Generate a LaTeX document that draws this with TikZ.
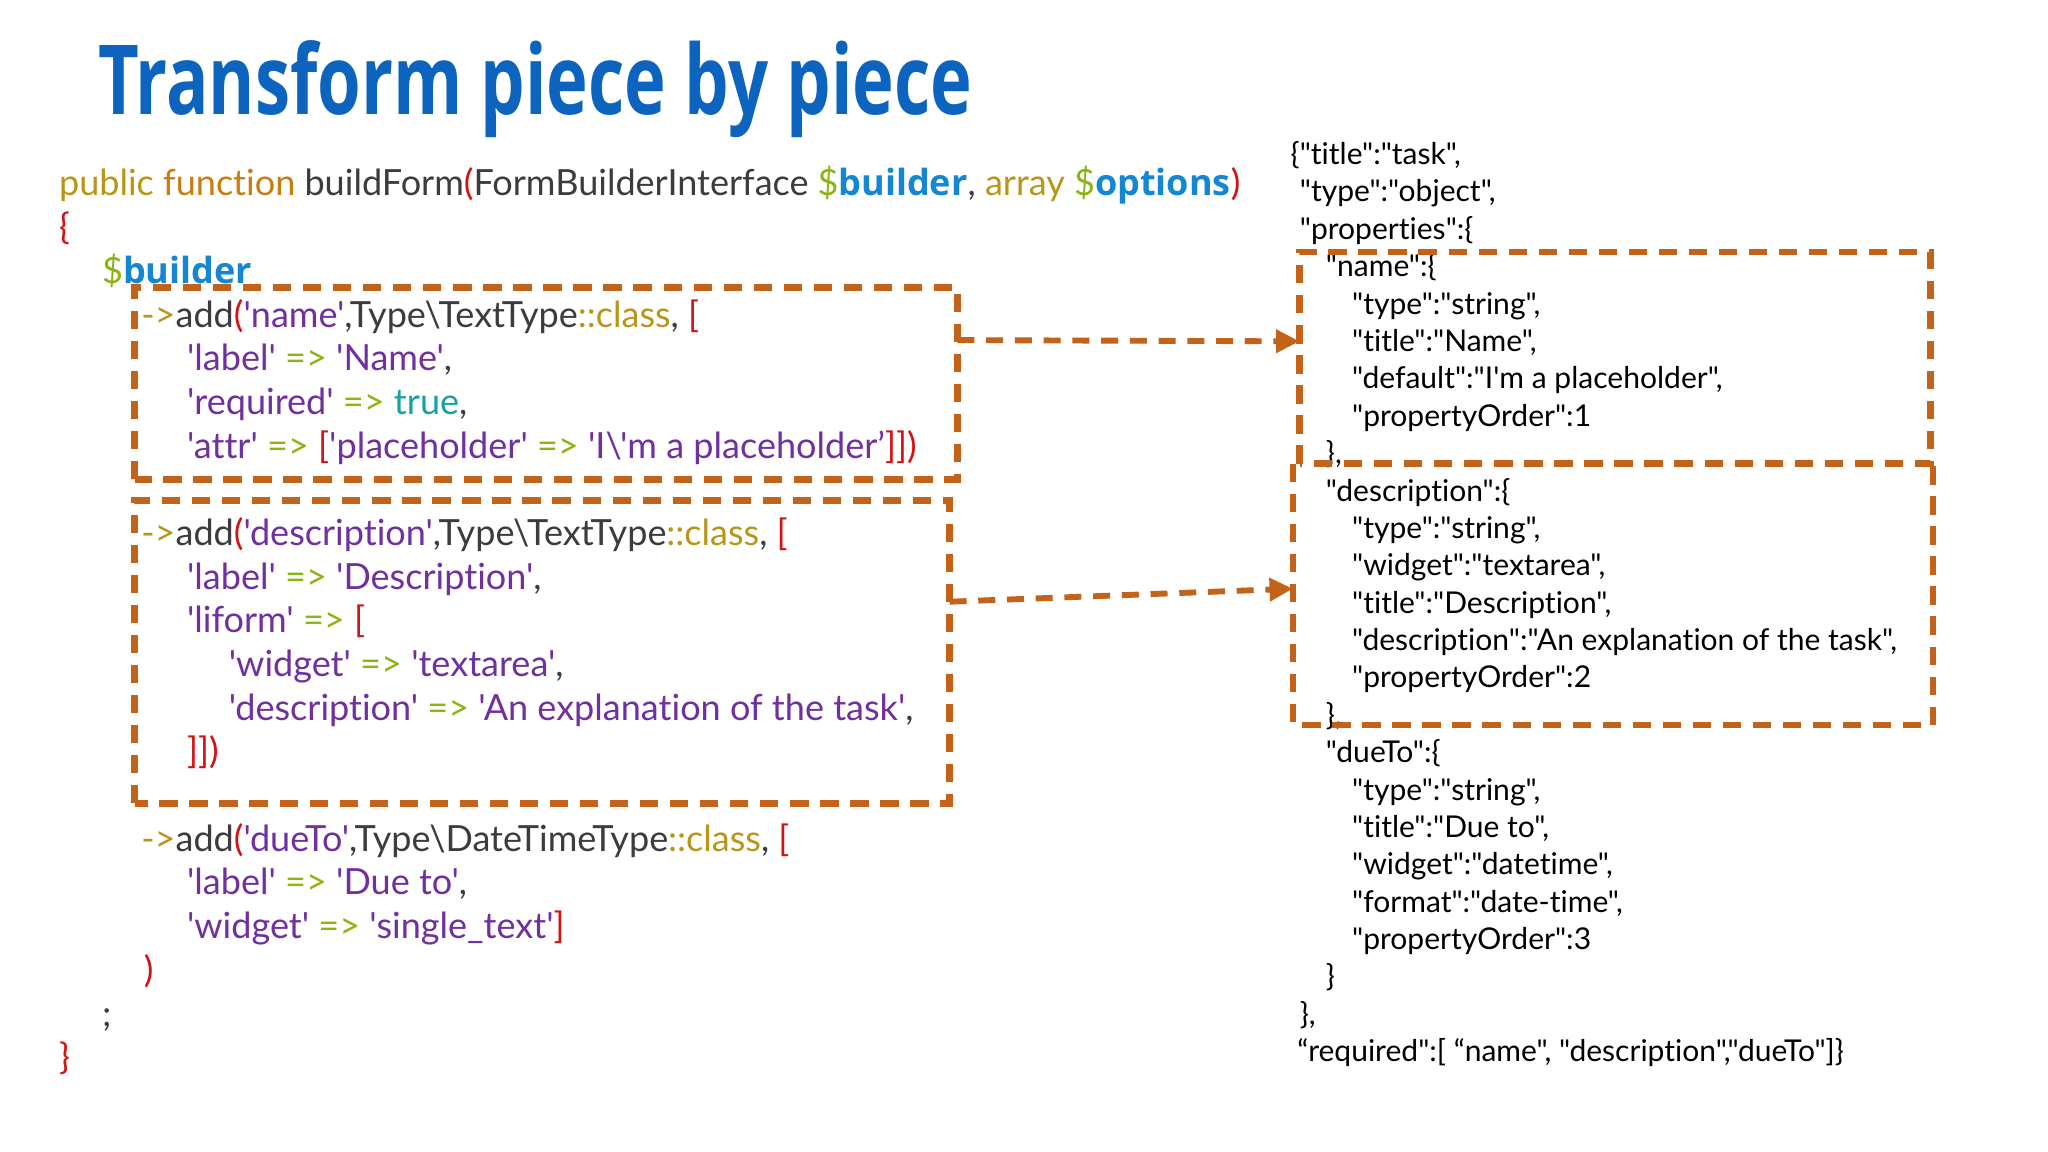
\documentclass[tikz,border=0pt]{standalone}
\usepackage{fontspec}
\usetikzlibrary{arrows.meta}
\newfontfamily\codefont[Ligatures=NoCommon]{Lato}
\newfontfamily\boldfont{Open Sans}
\newfontfamily\titlefont[FakeStretch=0.73]{Open Sans}
\definecolor{titleblue}{RGB}{12,100,190}
\definecolor{codegrey}{RGB}{60,60,60}
\definecolor{kwolive}{RGB}{185,150,25}
\definecolor{kworange}{RGB}{200,125,15}
\definecolor{strpurple}{RGB}{112,48,160}
\definecolor{oprgreen}{RGB}{140,180,20}
\definecolor{brkred}{RGB}{210,20,20}
\definecolor{varblue}{RGB}{20,135,210}
\definecolor{booteal}{RGB}{25,160,160}
\definecolor{boxorange}{RGB}{195,98,25}
\newcommand{\kwd}[1]{\textcolor{kwolive}{#1}}
\newcommand{\fnk}[1]{\textcolor{kworange}{#1}}
\newcommand{\strv}[1]{\textcolor{strpurple}{#1}}
\newcommand{\opr}{\textcolor{oprgreen}{=>}}
\newcommand{\brk}[1]{\textcolor{brkred}{#1}}
\newcommand{\booln}[1]{\textcolor{booteal}{#1}}
\newcommand{\varb}[1]{\textcolor{oprgreen}{\$}\textcolor{varblue}{\boldfont\bfseries #1}}
\begin{document}
\begin{tikzpicture}[x=1pt,y=-1pt,
	titletext/.style={anchor=base west,inner sep=0pt,text=titleblue,font=\titlefont\bfseries\fontsize{74}{74}\selectfont},
	codeline/.style={anchor=base west,inner sep=0pt,text=codegrey,font=\codefont\fontsize{27.6}{27.6}\selectfont},
	jsonline/.style={anchor=base west,inner sep=0pt,text=black,font=\codefont\fontsize{23}{23}\selectfont},
	blockbox/.style={inner sep=0pt,outer sep=0pt},
	dashedge/.style={draw=boxorange,line width=5pt,dash pattern=on 14pt off 9pt},
	linkarrow/.style={draw=boxorange,line width=4.5pt,dash pattern=on 13pt off 9pt,-{Triangle[length=18pt,width=17pt]}}]
	\fill[white] (0,0) rectangle (1568,882);
	
	% Draw title.
	\node[titletext] (title) at (75,88) {Transform piece by piece};
	
	% Draw PHP form builder code.
	\node[codeline] (code0) at (45,150) {\kwd{public} \fnk{function} buildForm\brk{(}FormBuilderInterface \varb{builder}, \kwd{array} \varb{options}\brk{)}};
	\node[codeline] (code1) at (45,183.5) {\brk{\{}};
	\node[codeline] (code2) at (78,216.9) {\varb{builder}};
	\node[codeline] (code3) at (108,250.4) {\kwd{->}add\brk{(}\strv{'name'},Type\textbackslash TextType\kwd{::class}, \brk{[}};
	\node[codeline] (code4) at (143,283.8) {\strv{'label'} \opr{} \strv{'Name'},};
	\node[codeline] (code5) at (143,317.3) {\strv{'required'} \opr{} \booln{true},};
	\node[codeline] (code6) at (143,350.7) {\strv{'attr'} \opr{} \brk{[}\strv{'placeholder'} \opr{} \strv{'I\textbackslash'm a placeholder’}\brk{]])}};
	\node[codeline] (code8) at (108,417.6) {\kwd{->}add\brk{(}\strv{'description'},Type\textbackslash TextType\kwd{::class}, \brk{[}};
	\node[codeline] (code9) at (143,451.1) {\strv{'label'} \opr{} \strv{'Description'},};
	\node[codeline] (code10) at (143,484.5) {\strv{'liform'} \opr{} \brk{[}};
	\node[codeline] (code11) at (175,518) {\strv{'widget'} \opr{} \strv{'textarea'},};
	\node[codeline] (code12) at (175,551.4) {\strv{'description'} \opr{} \strv{'An explanation of the task'},};
	\node[codeline] (code13) at (143,584.9) {\brk{]])}};
	\node[codeline] (code15) at (108,651.8) {\kwd{->}add\brk{(}\strv{'dueTo'},Type\textbackslash DateTimeType\kwd{::class}, \brk{[}};
	\node[codeline] (code16) at (143,685.2) {\strv{'label'} \opr{} \strv{'Due to'},};
	\node[codeline] (code17) at (143,718.7) {\strv{'widget'} \opr{} \strv{'single\_text'}\brk{]}};
	\node[codeline] (code18) at (110,752.1) {\brk{)}};
	\node[codeline] (code19) at (78,785.6) {;};
	\node[codeline] (code20) at (45,819) {\brk{\}}};
	
	% Draw JSON schema.
	\node[jsonline] (json0) at (988,126) {\{"title":"task",};
	\node[jsonline] (json1) at (995,154.6) {"type":"object",};
	\node[jsonline] (json2) at (995,183.2) {"properties":\{};
	\node[jsonline] (json3) at (1015,211.9) {"name":\{};
	\node[jsonline] (json4) at (1035,240.5) {"type":"string",};
	\node[jsonline] (json5) at (1035,269.1) {"title":"Name",};
	\node[jsonline] (json6) at (1035,297.7) {"default":"I'm a placeholder",};
	\node[jsonline] (json7) at (1035,326.3) {"propertyOrder":1};
	\node[jsonline] (json8) at (1015,355) {\},};
	\node[jsonline] (json9) at (1015,383.6) {"description":\{};
	\node[jsonline] (json10) at (1035,412.2) {"type":"string",};
	\node[jsonline] (json11) at (1035,440.8) {"widget":"textarea",};
	\node[jsonline] (json12) at (1035,469.4) {"title":"Description",};
	\node[jsonline] (json13) at (1035,498.1) {"description":"An explanation of the task",};
	\node[jsonline] (json14) at (1035,526.7) {"propertyOrder":2};
	\node[jsonline] (json15) at (1015,555.3) {\},};
	\node[jsonline] (json16) at (1015,583.9) {"dueTo":\{};
	\node[jsonline] (json17) at (1035,612.5) {"type":"string",};
	\node[jsonline] (json18) at (1035,641.2) {"title":"Due to",};
	\node[jsonline] (json19) at (1035,669.8) {"widget":"datetime",};
	\node[jsonline] (json20) at (1035,698.4) {"format":"date-time",};
	\node[jsonline] (json21) at (1035,727) {"propertyOrder":3};
	\node[jsonline] (json22) at (1015,755.6) {\}};
	\node[jsonline] (json23) at (995,784.3) {\},};
	\node[jsonline] (json24) at (993,812.9) {“required":[ “name", "description","dueTo"]\}};
	
	% Draw dashed boxes round matching pieces.
	\node[blockbox,minimum width=630pt,minimum height=147pt] (namecode) at (418,293.5) {};
	\node[blockbox,minimum width=624pt,minimum height=232pt] (desccode) at (415,499) {};
	\node[blockbox,minimum width=483pt,minimum height=162pt] (namejson) at (1236.5,274) {};
	\node[blockbox,minimum width=490pt,minimum height=200pt] (descjson) at (1235,455) {};
	\draw[dashedge] (namecode.south west) rectangle (namecode.north east);
	\draw[dashedge] (desccode.south west) rectangle (desccode.north east);
	\draw[dashedge] (namejson.south west) rectangle (namejson.north east);
	\draw[dashedge] (descjson.north west) -- (descjson.south west) -- (descjson.south east) -- (descjson.north east);
	
	% Connect code pieces and schema pieces.
	\draw[linkarrow] (namecode.6) -- (namejson.177);
	\draw[linkarrow] (desccode.7) -- (descjson.179);
\end{tikzpicture}
\end{document}
